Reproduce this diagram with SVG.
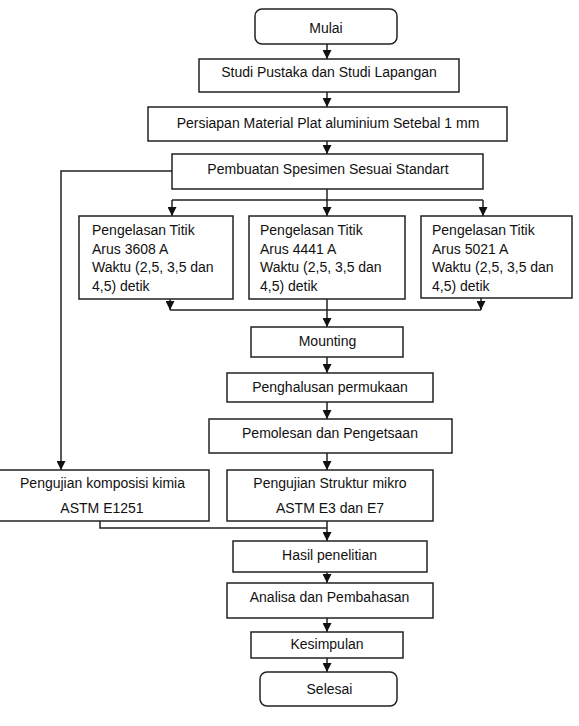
<svg xmlns="http://www.w3.org/2000/svg" width="579" height="726" viewBox="0 0 579 726">
<defs>
<marker id="ah" viewBox="0 0 10 10" refX="10" refY="5" markerWidth="9" markerHeight="9" markerUnits="userSpaceOnUse" orient="auto">
<path d="M0,0 L10,5 L0,10 Z" fill="#111"/>
</marker>
<style>
rect{fill:#fff;stroke:#222;stroke-width:1.5}
text{font-family:"Liberation Sans",Arial,sans-serif;font-size:14px;fill:#111}
.c{text-anchor:middle}
#connectors path{fill:none;stroke:#222;stroke-width:1.5}
.a{marker-end:url(#ah)}
</style>
</defs>
<rect x="0" y="0" width="579" height="726" style="fill:#fff;stroke:none"/>
<g id="connectors">
<path class="a" d="M327,44 V59"/>
<path class="a" d="M327,92 V107"/>
<path class="a" d="M327,141 V154"/>
<path d="M327,189 V200 M172,200 H483"/>
<path class="a" d="M172,200 V216"/>
<path class="a" d="M327,200 V216"/>
<path class="a" d="M483,200 V216"/>
<path class="a" d="M170,299 V310"/>
<path class="a" d="M481,298 V310"/>
<path d="M170,310 H481"/>
<path class="a" d="M327,299 V327"/>
<path class="a" d="M327,357 V373"/>
<path class="a" d="M327,402 V419"/>
<path class="a" d="M327,453 V470"/>
<path class="a" d="M172,171 H61 V470"/>
<path d="M100,521 V528 H327"/>
<path class="a" d="M327,521 V541"/>
<path class="a" d="M327,572 V583"/>
<path class="a" d="M327,618 V632"/>
<path class="a" d="M327,658 V672"/>
</g>
<g id="mulai"><rect x="255" y="9" width="142" height="35" rx="7"/><text class="c" x="326" y="33">Mulai</text></g>
<g id="studi"><rect x="199" y="59" width="260" height="33"/><text class="c" x="329" y="77">Studi Pustaka dan Studi Lapangan</text></g>
<g id="persiapan"><rect x="148" y="107" width="359" height="34"/><text class="c" x="328" y="128">Persiapan Material Plat aluminium Setebal 1 mm</text></g>
<g id="pembuatan"><rect x="172" y="154" width="311" height="35"/><text class="c" x="328" y="174">Pembuatan Spesimen Sesuai Standart</text></g>
<g id="las1"><rect x="79" y="216" width="154" height="83"/>
<text x="92" y="235">Pengelasan Titik</text><text x="92" y="253.5">Arus 3608 A</text><text x="92" y="272">Waktu (2,5, 3,5 dan</text><text x="92" y="290.5">4,5) detik</text></g>
<g id="las2"><rect x="249" y="216" width="156" height="83"/>
<text x="260" y="235">Pengelasan Titik</text><text x="260" y="253.5">Arus 4441 A</text><text x="260" y="272">Waktu (2,5, 3,5 dan</text><text x="260" y="290.5">4,5) detik</text></g>
<g id="las3"><rect x="421" y="216" width="151" height="82"/>
<text x="432" y="235">Pengelasan Titik</text><text x="432" y="253.5">Arus 5021 A</text><text x="432" y="272">Waktu (2,5, 3,5 dan</text><text x="432" y="290.5">4,5) detik</text></g>
<g id="mounting"><rect x="251" y="327" width="152" height="30"/><text class="c" x="327.5" y="346">Mounting</text></g>
<g id="penghalusan"><rect x="227" y="373" width="206" height="29"/><text class="c" x="330" y="392">Penghalusan permukaan</text></g>
<g id="pemolesan"><rect x="209" y="419" width="243" height="34"/><text class="c" x="330" y="438">Pemolesan dan Pengetsaan</text></g>
<g id="komposisi"><rect x="-1" y="470" width="210" height="51"/><text class="c" x="102.5" y="488">Pengujian komposisi kimia</text><text class="c" x="102" y="513">ASTM E1251</text></g>
<g id="struktur"><rect x="227" y="470" width="206" height="51"/><text class="c" x="330" y="488">Pengujian Struktur mikro</text><text class="c" x="330" y="513">ASTM E3 dan E7</text></g>
<g id="hasil"><rect x="233" y="541" width="194" height="31"/><text class="c" x="329.5" y="560">Hasil penelitian</text></g>
<g id="analisa"><rect x="227" y="583" width="206" height="35"/><text class="c" x="329.5" y="602">Analisa dan Pembahasan</text></g>
<g id="kesimpulan"><rect x="251" y="632" width="152" height="26"/><text class="c" x="327" y="649">Kesimpulan</text></g>
<g id="selesai"><rect x="260" y="672" width="137" height="34" rx="7"/><text class="c" x="329.5" y="694">Selesai</text></g>
</svg>
